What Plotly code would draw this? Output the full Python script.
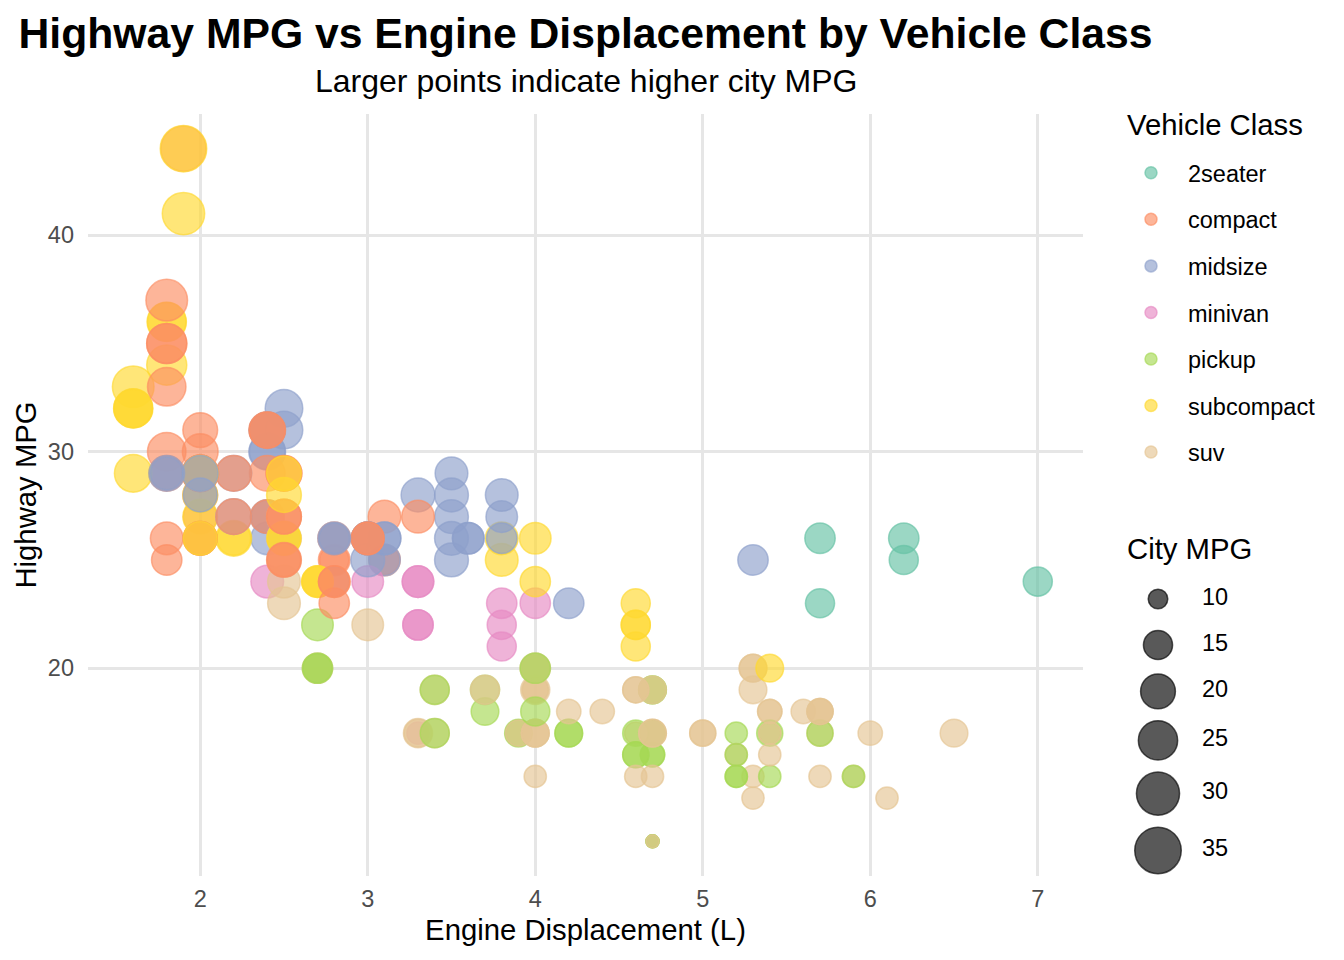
import numpy as np
import plotly.graph_objects as go

# mpg data, in row order (so overplotting matches)
displ = [
    1.8, 1.8, 2.0, 2.0, 2.8, 2.8, 3.1,            # audi a4
    1.8, 1.8, 2.0, 2.0, 2.8, 2.8, 3.1, 3.1,       # audi a4 quattro
    2.8, 3.1, 4.2,                                # audi a6 quattro
    5.3, 5.3, 5.3, 5.7, 6.0,                      # chevrolet c1500 suburban
    5.7, 5.7, 6.2, 6.2, 7.0,                      # chevrolet corvette
    5.3, 5.3, 5.7, 6.5,                           # chevrolet k1500 tahoe
    2.4, 2.4, 3.1, 3.5, 3.6,                      # chevrolet malibu
    2.4, 3.0, 3.3, 3.3, 3.3, 3.3, 3.3, 3.8, 3.8, 3.8, 4.0,  # dodge caravan
    3.7, 3.7, 3.9, 3.9, 4.7, 4.7, 4.7, 5.2, 5.2,  # dodge dakota
    3.9, 4.7, 4.7, 4.7, 5.2, 5.7, 5.9,            # dodge durango
    4.7, 4.7, 4.7, 4.7, 4.7, 4.7, 5.2, 5.2, 5.7, 5.9,  # dodge ram
    4.6, 5.4, 5.4,                                # ford expedition
    4.0, 4.0, 4.0, 4.0, 4.6, 5.0,                 # ford explorer
    4.2, 4.2, 4.6, 4.6, 4.6, 5.4, 5.4,            # ford f150
    3.8, 3.8, 4.0, 4.0, 4.6, 4.6, 4.6, 4.6, 5.4,  # ford mustang
    1.6, 1.6, 1.6, 1.6, 1.6, 1.8, 1.8, 1.8, 2.0,  # honda civic
    2.4, 2.4, 2.4, 2.4, 2.5, 2.5, 3.3,            # hyundai sonata
    2.0, 2.0, 2.0, 2.0, 2.7, 2.7, 2.7,            # hyundai tiburon
    3.0, 3.7, 4.0, 4.7, 4.7, 4.7, 5.7, 6.1,       # jeep grand cherokee
    4.0, 4.2, 4.4, 4.6,                           # land rover range rover
    5.4, 5.4, 5.4,                                # lincoln navigator
    4.0, 4.0, 4.6, 5.0,                           # mercury mountaineer
    2.4, 2.4, 2.5, 2.5, 3.5, 3.5,                 # nissan altima
    3.0, 3.0, 3.5,                                # nissan maxima
    3.3, 3.3, 4.0, 5.6,                           # nissan pathfinder
    3.1, 3.8, 3.8, 3.8, 5.3,                      # pontiac grand prix
    2.5, 2.5, 2.5, 2.5, 2.5, 2.5,                 # subaru forester
    2.2, 2.2, 2.5, 2.5, 2.5, 2.5, 2.5, 2.5,       # subaru impreza
    2.7, 2.7, 3.4, 3.4, 4.0, 4.7,                 # toyota 4runner
    2.2, 2.2, 2.4, 2.4, 3.0, 3.0, 3.5,            # toyota camry
    2.2, 2.2, 2.4, 2.4, 3.0, 3.0, 3.3,            # toyota camry solara
    1.8, 1.8, 1.8, 1.8, 1.8,                      # toyota corolla
    4.7, 5.7,                                     # toyota land cruiser
    2.7, 2.7, 2.7, 3.4, 3.4, 4.0, 4.0,            # toyota tacoma
    2.0, 2.0, 2.0, 2.0, 2.8,                      # vw gti
    1.9, 2.0, 2.0, 2.0, 2.0, 2.5, 2.5, 2.8, 2.8,  # vw jetta
    1.9, 1.9, 2.0, 2.0, 2.5, 2.5,                 # vw new beetle
    1.8, 1.8, 2.0, 2.0, 2.8, 2.8, 3.6,            # vw passat
]

hwy = [
    29, 29, 31, 30, 26, 26, 27,
    26, 25, 28, 27, 25, 25, 25, 25,
    24, 25, 23,
    20, 15, 20, 17, 17,
    26, 23, 26, 25, 24,
    19, 14, 15, 17,
    27, 30, 26, 29, 26,
    24, 24, 22, 22, 24, 24, 17, 22, 21, 23, 23,
    19, 18, 17, 17, 19, 19, 12, 17, 15,
    17, 17, 12, 17, 16, 18, 15,
    16, 12, 17, 17, 16, 12, 15, 16, 17, 15,
    17, 17, 18,
    17, 19, 17, 19, 19, 17,
    17, 17, 16, 16, 17, 15, 17,
    26, 25, 26, 24, 21, 22, 23, 22, 20,
    33, 32, 32, 29, 32, 34, 36, 36, 29,
    26, 27, 30, 31, 26, 26, 28,
    26, 29, 28, 27, 24, 24, 24,
    22, 19, 20, 17, 12, 19, 18, 14,
    15, 18, 18, 15,
    17, 16, 18,
    17, 19, 19, 17,
    29, 27, 31, 32, 27, 26,
    26, 25, 25,
    17, 17, 20, 18,
    26, 26, 27, 28, 25,
    25, 24, 27, 25, 26, 23,
    26, 26, 26, 26, 25, 27, 25, 27,
    20, 20, 19, 17, 20, 17,
    29, 27, 31, 31, 26, 26, 28,
    27, 29, 31, 31, 26, 26, 27,
    30, 33, 35, 37, 35,
    15, 18,
    20, 20, 22, 17, 19, 18, 20,
    29, 26, 29, 29, 24,
    44, 29, 26, 29, 29, 29, 29, 23, 24,
    44, 41, 29, 26, 28, 29,
    29, 29, 28, 29, 26, 26, 26,
]

cty = [
    18, 21, 20, 21, 16, 18, 18,
    18, 16, 20, 19, 15, 17, 17, 15,
    15, 17, 16,
    14, 11, 14, 13, 12,
    16, 15, 16, 15, 15,
    14, 11, 11, 14,
    19, 22, 18, 18, 17,
    18, 17, 16, 16, 17, 17, 11, 15, 15, 16, 16,
    15, 14, 13, 14, 14, 14, 9, 11, 11,
    13, 13, 9, 13, 11, 13, 11,
    12, 9, 13, 13, 12, 9, 11, 11, 13, 11,
    11, 11, 12,
    14, 15, 14, 13, 13, 13,
    14, 14, 13, 13, 13, 11, 13,
    18, 18, 17, 16, 15, 15, 15, 15, 14,
    28, 24, 25, 23, 24, 26, 25, 24, 21,
    18, 18, 21, 21, 18, 18, 19,
    19, 19, 20, 20, 17, 16, 17,
    17, 15, 15, 14, 9, 14, 13, 11,
    11, 12, 12, 11,
    11, 11, 12,
    14, 13, 13, 13,
    21, 19, 23, 23, 19, 19,
    18, 19, 19,
    14, 15, 14, 12,
    18, 16, 17, 18, 16,
    18, 18, 20, 19, 20, 18,
    21, 19, 19, 19, 20, 20, 19, 20,
    15, 16, 15, 15, 16, 14,
    21, 21, 21, 21, 18, 18, 19,
    21, 21, 21, 22, 18, 18, 18,
    24, 24, 26, 28, 26,
    11, 13,
    15, 16, 17, 15, 15, 15, 16,
    21, 19, 21, 22, 17,
    33, 21, 19, 22, 21, 21, 21, 16, 17,
    35, 29, 21, 19, 20, 20,
    21, 18, 19, 21, 16, 18, 17,
]

vclass = (
    ["compact"] * 15 + ["midsize"] * 3 + ["suv"] * 5 + ["2seater"] * 5
    + ["suv"] * 4 + ["midsize"] * 5 + ["minivan"] * 11 + ["pickup"] * 9
    + ["suv"] * 7 + ["pickup"] * 10 + ["suv"] * 9 + ["pickup"] * 7
    + ["subcompact"] * 18 + ["midsize"] * 7 + ["subcompact"] * 7
    + ["suv"] * 19 + ["compact"] * 2 + ["midsize"] * 4 + ["midsize"] * 3
    + ["suv"] * 4 + ["midsize"] * 5 + ["suv"] * 6 + ["subcompact"] * 4
    + ["compact"] * 4 + ["suv"] * 6 + ["midsize"] * 7 + ["compact"] * 12
    + ["suv"] * 2 + ["pickup"] * 7 + ["compact"] * 14 + ["subcompact"] * 6
    + ["midsize"] * 7
)

class_names = ["2seater", "compact", "midsize", "minivan", "pickup", "subcompact", "suv"]
class_colors = ["#66C2A5", "#FC8D62", "#8DA0CB", "#E78AC3", "#A6D854", "#FFD92F", "#E5C494"]
size_breaks = [10, 15, 20, 25, 30, 35]

ALPHA = 0.65
FONT = "Liberation Sans, Arial, Helvetica, sans-serif"


def rgba(hex_color, a=ALPHA):
    h = hex_color.lstrip("#")
    r, g, b = (int(h[i:i + 2], 16) for i in (0, 2, 4))
    return f"rgba({r},{g},{b},{a})"


# area-style size scale like ggplot's scale_size
cty_lo, cty_hi = min(cty), max(cty)


def cty_size(v):
    v = np.asarray(v, dtype=float)
    return 13 + np.sqrt((v - cty_lo) / (cty_hi - cty_lo)) * (46.5 - 13)


color_of = dict(zip(class_names, class_colors))
point_colors = [rgba(color_of[c]) for c in vclass]

# page geometry (px)
W, H = 1344, 960
ml, mr, mt, mb = 88, 14, 114, 84
pw, ph = W - ml - mr, H - mt - mb
panel_right = 1083
main_dom = (panel_right - ml) / pw
panel_mid = (ml + panel_right) / 2

fig = go.Figure()

fig.add_trace(go.Scatter(
    x=displ, y=hwy, mode="markers", showlegend=False, hoverinfo="skip",
    marker=dict(size=cty_size(cty), color=point_colors, opacity=1,
                line=dict(color=point_colors, width=1.5)),
))

# legend-only entries for vehicle class
for name, col in zip(class_names, class_colors):
    fig.add_trace(go.Scatter(
        x=[None], y=[None], mode="markers", name=name, legendgroup=name,
        marker=dict(size=12, color=rgba(col), opacity=1,
                    line=dict(color=rgba(col), width=1.5)),
    ))

# size legend drawn on a helper axis measured in pixels
key_d = cty_size(size_breaks) + 1.5
row_h = np.maximum(key_d, 35.5) + 10.5
first_top = 599 - row_h[0] / 2 - mt
key_y = first_top + np.cumsum(row_h) - row_h / 2
leg_left = 1100
fig.add_trace(go.Scatter(
    x=[1158 - leg_left] * len(size_breaks), y=key_y, mode="markers",
    xaxis="x2", yaxis="y2", showlegend=False, hoverinfo="skip",
    marker=dict(size=cty_size(size_breaks), color="rgba(0,0,0,0.65)", opacity=1,
                line=dict(color="rgba(0,0,0,0.65)", width=1.5)),
))
fig.add_trace(go.Scatter(
    x=[1202 - leg_left] * len(size_breaks), y=key_y, mode="text",
    text=[str(s) for s in size_breaks], textposition="middle right",
    xaxis="x2", yaxis="y2", showlegend=False, hoverinfo="skip",
    textfont=dict(size=23.5, color="black", family=FONT),
))

fig.update_layout(
    width=W, height=H,
    margin=dict(l=ml, r=mr, t=mt, b=mb),
    paper_bgcolor="white", plot_bgcolor="white",
    font=dict(family=FONT, color="black"),
    title=dict(
        text="<b>Highway MPG vs Engine Displacement by Vehicle Class</b>",
        font=dict(size=42.7, color="black"),
        x=(panel_mid - ml) / pw, xanchor="center", xref="paper",
        y=1 - 33 / H, yanchor="middle", yref="container",
    ),
    xaxis=dict(
        domain=[0, main_dom], range=[1.33, 7.27], tick0=2, dtick=1,
        showgrid=True, gridcolor="#E6E6E6", gridwidth=2.5, zeroline=False,
        showline=False, ticks="", ticklabelstandoff=6,
        tickfont=dict(size=23.5, color="#4D4D4D"),
        title=dict(text="Engine Displacement (L)", font=dict(size=29.3, color="black"), standoff=8),
    ),
    yaxis=dict(
        range=[10.4, 45.6], tick0=0, dtick=10,
        showgrid=True, gridcolor="#E6E6E6", gridwidth=2.5, zeroline=False,
        showline=False, ticks="", ticklabelstandoff=13,
        tickfont=dict(size=23.5, color="#4D4D4D"),
        title=dict(text="Highway MPG", font=dict(size=29.3, color="black"), standoff=2),
    ),
    xaxis2=dict(domain=[(leg_left - ml) / pw, 1], range=[0, W - mr - leg_left],
                visible=False, anchor="y2", fixedrange=True),
    yaxis2=dict(domain=[0, 1], range=[ph, 0], visible=False, anchor="x2", fixedrange=True),
    legend=dict(
        font=dict(size=23.5, color="black"),
        x=(1114 - ml) / pw, xanchor="left",
        y=(H - mb - 151) / ph, yanchor="top",
        itemwidth=64, tracegroupgap=13, bgcolor="rgba(0,0,0,0)",
    ),
    annotations=[
        dict(text="Larger points indicate higher city MPG", xref="paper", yref="paper",
             x=(panel_mid - ml) / pw, y=(H - mb - 81) / ph, xanchor="center", yanchor="middle",
             showarrow=False, font=dict(size=32, color="black")),
        dict(text="Vehicle Class", xref="x2", yref="y2", x=1125 - leg_left, y=124 - mt,
             xanchor="left", yanchor="middle", showarrow=False,
             font=dict(size=29.3, color="black")),
        dict(text="City MPG", xref="x2", yref="y2", x=1125 - leg_left, y=548 - mt,
             xanchor="left", yanchor="middle", showarrow=False,
             font=dict(size=29.3, color="black")),
    ],
)

fig.write_html("out.html", config={"displayModeBar": False},
               post_script="document.body.style.margin='0px';")
